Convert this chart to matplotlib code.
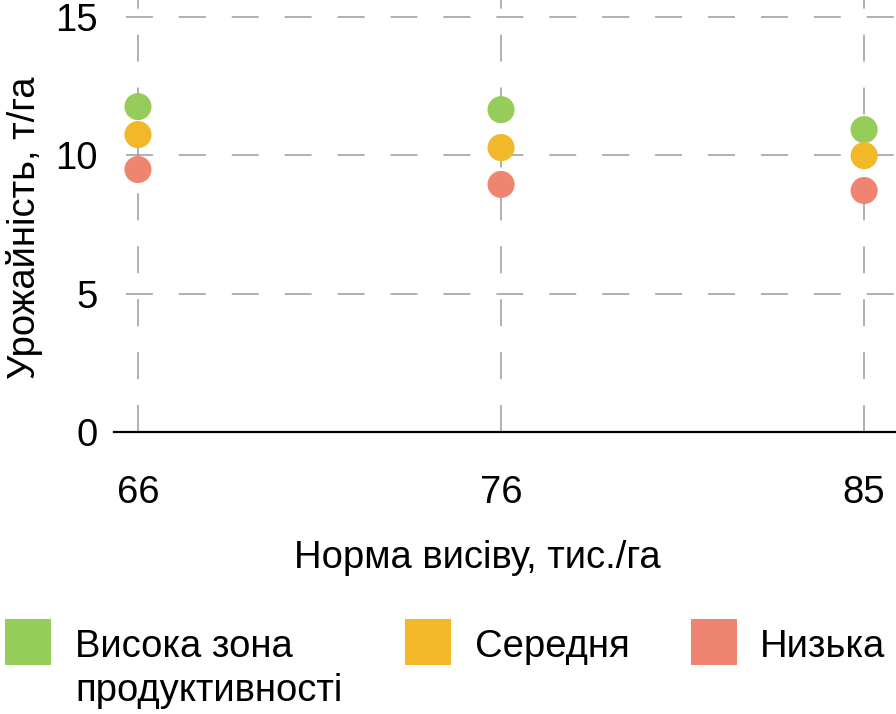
import matplotlib
matplotlib.use("Agg")
import matplotlib.pyplot as plt
from matplotlib.patches import Rectangle

plt.rcParams['font.family'] = ['Liberation Sans', 'DejaVu Sans']
plt.rcParams['lines.scale_dashes'] = False

categories = ["66", "76", "85"]
series_names = ["Висока зона\nпродуктивності", "Середня", "Низька"]
high = [11.75, 11.64, 10.92]
mid = [10.74, 10.27, 9.98]
low = [9.48, 8.94, 8.72]
colors = ["#96CC5A", "#F3B72A", "#EF8570"]
yticks = [0, 5, 10, 15]

W, H = 896, 714
FS = 27.5
fig = plt.figure(figsize=(W / 100, H / 100), dpi=100)
ax = fig.add_axes([114 / W, 1 - 432 / H, 781 / W, 432 / H])

x = list(range(len(categories)))
ax.set_xlim(-0.066, 2.085)
ax.set_ylim(0, 15.6)

grid_color = "#9a9a9a"
dash_h = (29.5, (19.4, 18.7))
dash_v = (0, (19.4, 18.7))
for yv in yticks[1:]:
    ax.axhline(yv, color=grid_color, lw=1.1, linestyle=dash_h, zorder=1)
for xv in x:
    ax.axvline(xv, color=grid_color, lw=1.1, linestyle=dash_v, zorder=1)
ax.axhline(0, color="black", lw=1.6, zorder=2, clip_on=False)

for vals, c in zip([high, mid, low], colors):
    ax.scatter(x, vals, s=380, color=c, edgecolors="none", zorder=3)

for s in ax.spines.values():
    s.set_visible(False)
ax.set_xticks(x)
ax.set_xticklabels(categories)
ax.set_yticks(yticks)
ax.set_yticklabels([str(v) for v in yticks])
ax.tick_params(axis="both", length=0, labelsize=FS, colors="black")
ax.tick_params(axis="x", pad=31)
ax.tick_params(axis="y", pad=12)

ax.set_xlabel("Норма висіву, тис./га", fontsize=FS)
ax.xaxis.set_label_coords((477.5 - 114) / 781, (432 - 540) / 432)
ax.set_ylabel("Урожайність, т/га", fontsize=FS)
ax.yaxis.set_label_coords((43 - 114) / 781, (432 - 228) / 432)

# legend drawn in figure pixel coordinates
sq_x = [5, 405, 691]
txt_x = [75, 475, 760]
sq_top, sq_size = 619, 46
for sx, tx, c, name in zip(sq_x, txt_x, colors, series_names):
    fig.add_artist(Rectangle((sx / W, 1 - (sq_top + sq_size) / H), sq_size / W, sq_size / H,
                             transform=fig.transFigure, facecolor=c, edgecolor="none"))
    fig.text(tx / W, 1 - 629 / H, name, fontsize=FS, va="top", ha="left",
             linespacing=1.3)

fig.savefig("out.png", dpi=100)
